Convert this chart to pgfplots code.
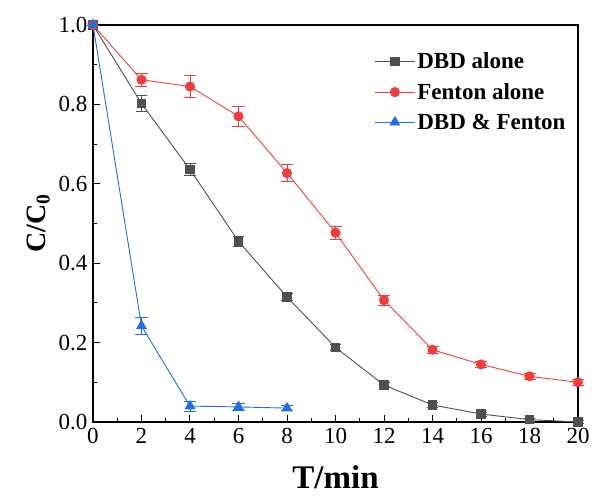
\documentclass[border=0pt]{standalone}
\usepackage{pgfplots}
\pgfplotsset{compat=1.18}
\usepackage{fontspec}
\setmainfont{Liberation Serif}
\definecolor{cgray}{HTML}{505050}
\definecolor{cred}{HTML}{EF3E3E}
\definecolor{cblue}{HTML}{1F6FE0}
\begin{document}
\begin{tikzpicture}
\begin{axis}[
  scale only axis,
  width=485bp, height=397bp,
  xmin=0, xmax=20, ymin=0, ymax=1.0,
  xtick={0,2,...,20}, ytick={0,0.2,...,1.0},
  minor x tick num=1, minor y tick num=1,
  tick align=inside,
  xtick pos=bottom, ytick pos=left,
  major tick length=7bp, minor tick length=4bp,
  axis line style={line width=1.5bp},
  every tick/.style={line width=1bp, black},
  /pgf/number format/assume math mode=true,
  /pgf/number format/fixed, /pgf/number format/fixed zerofill,
  yticklabel style={/pgf/number format/precision=1, xshift=-2bp},
  xticklabel style={/pgf/number format/precision=0, yshift=-3bp},
  ticklabel style={font=\fontsize{23bp}{26bp}\selectfont},
  xlabel={\textbf{T/min}},
  ylabel={\textbf{C/C\textsubscript{0}}},
  xlabel style={font=\fontsize{33bp}{36bp}\selectfont, yshift=-15bp},
  ylabel style={font=\fontsize{28bp}{32bp}\selectfont, yshift=2bp},
  legend style={draw=none, fill=none, at={(0.985,0.94)}, anchor=north east,
    font=\fontsize{23bp}{26bp}\selectfont, row sep=9bp},
  legend cell align=left,
  legend image code/.code={
    \draw[#1] (0cm,0cm) -- (40bp,0cm);
    \draw[#1, only marks] plot coordinates {(20bp,0cm)};
  },
  clip=false,
]
\addplot[color=cgray, line width=0.9bp, mark=square*, mark size=4.2bp,
  error bars/.cd, y dir=both, y explicit, error bar style={line width=0.9bp},
  error mark options={rotate=90, mark size=5.5bp, line width=0.9bp}]
  table[x=x, y=y, y error=e] {
x y e
0 1.000 0.000
2 0.802 0.020
4 0.636 0.014
6 0.455 0.012
8 0.315 0.010
10 0.188 0.008
12 0.093 0.007
14 0.043 0.006
16 0.020 0.005
18 0.006 0.004
20 0.000 0.003
};
\addlegendentry{\textbf{DBD alone}}
\addplot[color=cred, line width=0.9bp, mark=*, mark size=4.6bp,
  error bars/.cd, y dir=both, y explicit, error bar style={line width=0.9bp},
  error mark options={rotate=90, mark size=6bp, line width=0.9bp}]
  table[x=x, y=y, y error=e] {
x y e
0 1.000 0.000
2 0.862 0.016
4 0.845 0.028
6 0.770 0.026
8 0.627 0.021
10 0.477 0.016
12 0.307 0.013
14 0.182 0.009
16 0.145 0.008
18 0.115 0.008
20 0.100 0.008
};
\addlegendentry{\textbf{Fenton alone}}
\addplot[color=cblue, line width=0.9bp, mark=triangle*, mark size=5.5bp,
  error bars/.cd, y dir=both, y explicit, error bar style={line width=0.9bp},
  error mark options={rotate=90, mark size=6bp, line width=0.9bp}]
  table[x=x, y=y, y error=e] {
x y e
0 1.000 0.000
2 0.242 0.022
4 0.040 0.013
6 0.038 0.008
8 0.035 0.006
};
\addlegendentry{\textbf{DBD \& Fenton}}
\end{axis}
\pgfresetboundingbox
\path (current axis.south west) ++(-93bp,-79bp) coordinate (bl);
\path (current axis.north east) ++(15bp,25bp) coordinate (tr);
\path (bl) rectangle (tr);
\end{tikzpicture}
\end{document}
